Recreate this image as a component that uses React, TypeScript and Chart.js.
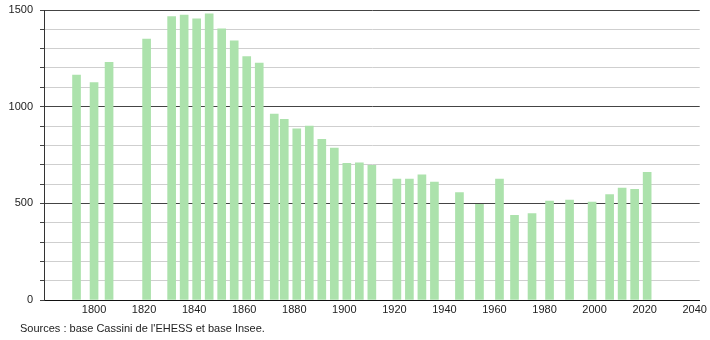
import React, { useEffect, useRef } from "react";
import { Chart, registerables } from "chart.js";

Chart.register(...registerables);

const years = [1793, 1800, 1806, 1821, 1831, 1836, 1841, 1846, 1851, 1856, 1861, 1866, 1872, 1876, 1881, 1886, 1891, 1896, 1901, 1906, 1911, 1921, 1926, 1931, 1936, 1946, 1954, 1962, 1968, 1975, 1982, 1990, 1999, 2006, 2011, 2016, 2021];
const population = [1164, 1124, 1229, 1350, 1466, 1474, 1454, 1480, 1402, 1340, 1259, 1226, 962, 935, 885, 899, 831, 786, 707, 710, 697, 626, 626, 648, 610, 555, 495, 626, 438, 447, 512, 517, 507, 545, 579, 573, 661];
const yMajorTicks = [0, 500, 1000, 1500];
const xTickLabels = [1800, 1820, 1840, 1860, 1880, 1900, 1920, 1940, 1960, 1980, 2000, 2020, 2040];
const sourceText = "Sources : base Cassini de l'EHESS et base Insee.";

const FONT = "'Liberation Sans', Arial, sans-serif";

export default function App() {
  const ref = useRef<HTMLCanvasElement | null>(null);

  useEffect(() => {
    if (!ref.current) return;
    const chart = new Chart(ref.current, {
      type: "bar",
      data: {
        datasets: [
          {
            data: years.map((y, i) => ({ x: y, y: population[i] })),
            backgroundColor: "#ace2ac",
            borderWidth: 0,
            barThickness: 8,
          },
        ],
      },
      options: {
        animation: false,
        responsive: false,
        maintainAspectRatio: false,
        layout: { padding: { top: 10, right: 8, left: 0, bottom: 0 } },
        plugins: { legend: { display: false }, tooltip: { enabled: false } },
        scales: {
          x: {
            type: "linear",
            offset: false,
            min: 1780,
            max: 2042,
            afterFit: (s: any) => {
              s.height = 40;
            },
            afterBuildTicks: (s: any) => {
              s.ticks = xTickLabels.map((v) => ({ value: v }));
            },
            ticks: {
              autoSkip: false,
              maxRotation: 0,
              padding: 3,
              color: "#222",
              font: { family: FONT, size: 11 },
              callback: (v: any) => String(v),
            },
            grid: { display: false, drawTicks: false, offset: false },
            border: { display: true, color: "#111", width: 1 },
          },
          y: {
            min: 0,
            max: 1500,
            afterFit: (s: any) => {
              s.width = 44;
              s.paddingTop = 0;
              s.paddingBottom = 0;
            },
            ticks: {
              stepSize: 100,
              autoSkip: false,
              padding: 7,
              color: "#222",
              font: { family: FONT, size: 11 },
              callback: (v: any) => (yMajorTicks.includes(Number(v)) ? String(v) : ""),
            },
            grid: {
              drawTicks: true,
              tickLength: 4,
              color: (ctx: any) =>
                ctx.tick && yMajorTicks.includes(ctx.tick.value) ? "#444" : "#cfcfcf",
              tickColor: "#444",
              lineWidth: 1,
            },
            border: { display: true, color: "#333", width: 1 },
          },
        },
      },
    });
    return () => chart.destroy();
  }, []);

  return (
    <div style={{ position: "fixed", left: 0, top: 0, width: 710, height: 340, background: "#fff" }}>
      <canvas ref={ref} width={710} height={340} style={{ display: "block" }} />
      <div
        style={{
          position: "absolute",
          left: 20,
          top: 322,
          fontFamily: FONT,
          fontSize: 11,
          color: "#222",
          lineHeight: "13px",
          whiteSpace: "nowrap",
        }}
      >
        {sourceText}
      </div>
    </div>
  );
}
